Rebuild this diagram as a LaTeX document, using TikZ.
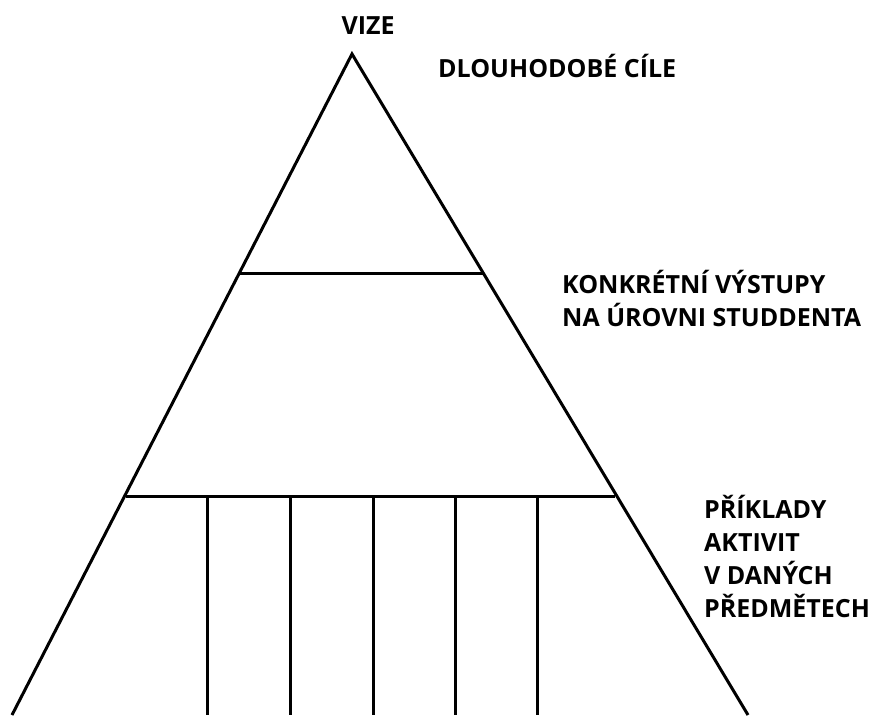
\documentclass[tikz,border=0pt]{standalone}
\usepackage{fontspec}
\setmainfont{Open Sans}
\begin{document}
\begin{tikzpicture}[x=1pt,y=-1pt,
  edge/.style={line width=3pt,line cap=butt},
  lbl/.style={font=\bfseries\fontsize{25}{33}\selectfont,inner sep=0pt,anchor=base west}]
\useasboundingbox (0,0) rectangle (874,715);
\coordinate (apex) at (352,54);
\coordinate (bl) at (12,715);
\coordinate (br) at (748,715);
\coordinate (a1) at (240,273);
\coordinate (b1) at (483,273);
\coordinate (a2) at (126,496);
\coordinate (b2) at (615,496);
\draw[edge,line join=miter] (bl) -- (apex) -- (br);
\draw[edge] (a1) -- (b1);
\draw[edge] (a2) -- (b2);
\foreach \i/\x in {1/207.5,2/290,3/373,4/455,5/537}{
  \coordinate (t\i) at (\x,496);
  \coordinate (u\i) at (\x,715);
  \draw[edge] (t\i) -- (u\i);
}
\node[lbl,anchor=base] (vize) at (368,34) {VIZE};
\node[lbl] (dl) at (438,77) {DLOUHODOBÉ CÍLE};
\node[lbl] (kv1) at (562,293) {KONKRÉTNÍ VÝSTUPY};
\node[lbl] (kv2) at (562,326) {NA ÚROVNI STUDDENTA};
\node[lbl] (pa1) at (704,518) {PŘÍKLADY};
\node[lbl] (pa2) at (704,551) {AKTIVIT};
\node[lbl] (pa3) at (704,584) {V DANÝCH};
\node[lbl] (pa4) at (704,617) {PŘEDMĚTECH};
\end{tikzpicture}
\end{document}
